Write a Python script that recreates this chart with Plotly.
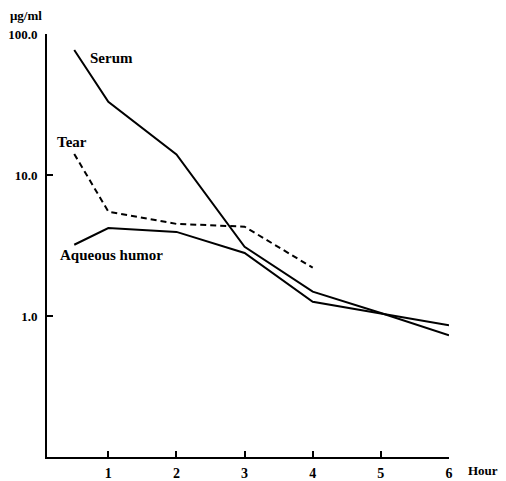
import plotly.graph_objects as go

hours_serum = [0.5, 1, 2, 3, 4, 5, 6]
serum = [77, 33, 14, 3.1, 1.49, 1.05, 0.73]

hours_tear = [0.5, 1, 2, 3, 4]
tear = [14.1, 5.5, 4.5, 4.3, 2.2]

hours_aq = [0.5, 1, 2, 3, 4, 5, 6]
aqueous = [3.2, 4.2, 3.95, 2.8, 1.26, 1.04, 0.86]

x_ticks = [1, 2, 3, 4, 5, 6]
x_tick_labels = ["1", "2", "3", "4", "5", "6"]
y_ticks = [1, 10, 100]
y_tick_labels = ["1.0", "10.0", "100.0"]

FONT = "Liberation Serif"

fig = go.Figure()
fig.add_trace(go.Scatter(x=hours_serum, y=serum, mode="lines", name="Serum",
                         line=dict(color="black", width=2)))
fig.add_trace(go.Scatter(x=hours_tear, y=tear, mode="lines", name="Tear",
                         line=dict(color="black", width=2, dash="6px,4px")))
fig.add_trace(go.Scatter(x=hours_aq, y=aqueous, mode="lines", name="Aqueous humor",
                         line=dict(color="black", width=2)))

# page has an 8px body margin; figure is sized to fit the 506x481 window
OFF = 8
W, H = 506 - OFF, 481 - OFF
L, R, T, B = 47 - OFF, 57, 34 - OFF, 24

fig.update_layout(
    width=W, height=H,
    margin=dict(l=L, r=R, t=T, b=B, autoexpand=False),
    paper_bgcolor="white", plot_bgcolor="white",
    showlegend=False,
    font=dict(family=FONT, size=14, color="black"),
    xaxis=dict(range=[0.1, 6.0], tickvals=x_ticks,
               ticktext=["<b>%s</b>" % t for t in x_tick_labels],
               ticks="inside", ticklen=6, tickwidth=1.5, tickcolor="black",
               showline=True, linecolor="black", linewidth=2, showgrid=False,
               zeroline=False, automargin=False, ticklabelstandoff=2,
               tickfont=dict(family=FONT, size=14, color="black")),
    yaxis=dict(type="log", range=[-1, 2], tickvals=y_ticks,
               ticktext=["<b>%s</b>" % t for t in y_tick_labels],
               ticks="inside", ticklen=6, tickwidth=1.5, tickcolor="black",
               showline=True, linecolor="black", linewidth=2, showgrid=False,
               zeroline=False, automargin=False, ticklabelstandoff=5,
               tickfont=dict(family=FONT, size=13, color="black")),
)

def px(xp, yp):
    # convert window pixel coordinates to paper coordinates
    xf, yf = xp - OFF, yp - OFF
    return (xf - L) / (W - L - R), (H - B - yf) / (H - T - B)

for text, xp, yp, size in [
    ("<b>Serum</b>", 88, 58, 15),
    ("<b>Tear</b>", 55, 142, 15),
    ("<b>Aqueous humor</b>", 58, 255, 15),
    ("<b>μg/ml</b>", 8, 15, 13),
    ("<b>Hour</b>", 466, 470, 13),
]:
    xx, yy = px(xp, yp)
    fig.add_annotation(text=text, x=xx, y=yy, xanchor="left", yanchor="middle",
                       xref="paper", yref="paper", showarrow=False,
                       font=dict(family=FONT, size=size, color="black"))

fig.write_html("out.html")
